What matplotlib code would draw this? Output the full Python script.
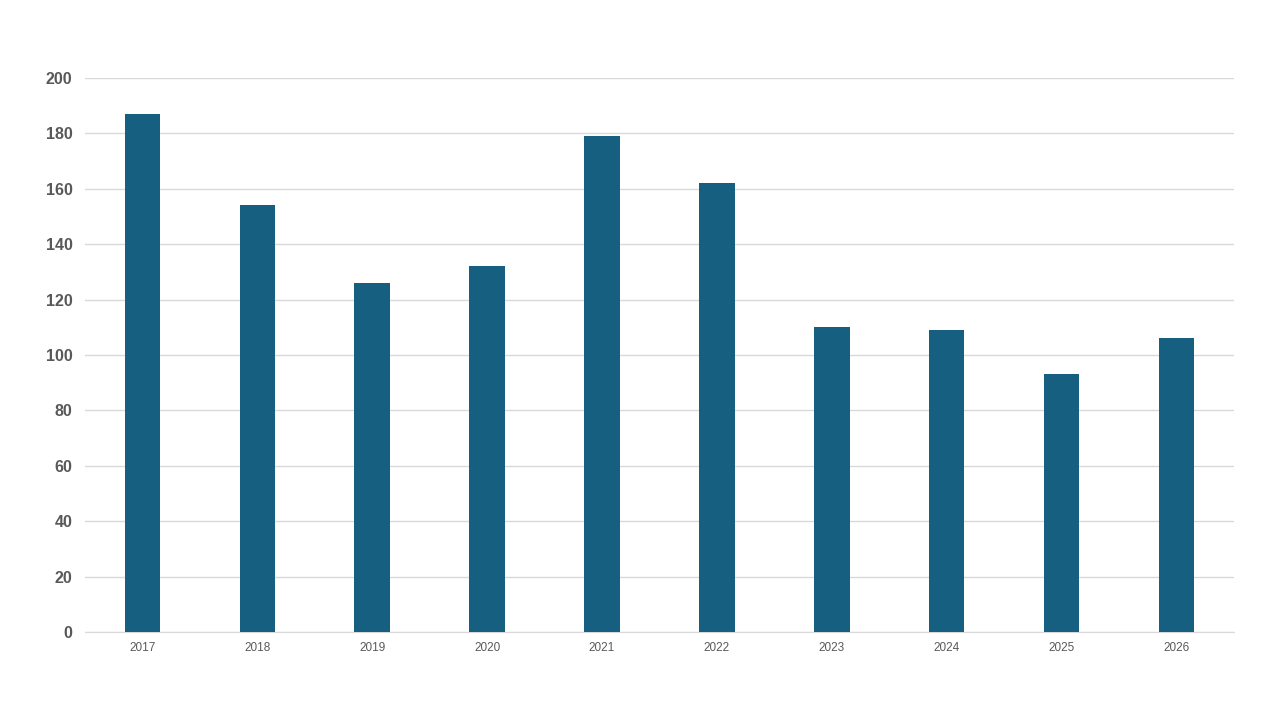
import matplotlib
matplotlib.use('Agg')
import matplotlib.pyplot as plt

plt.rcParams['font.family'] = ['Liberation Sans', 'DejaVu Sans']

years = ['2017', '2018', '2019', '2020', '2021', '2022', '2023', '2024', '2025', '2026']
values = [187, 154, 126, 132, 179, 162, 110, 109, 93, 106]

BAR_COLOR = '#175F80'
GRID_COLOR = '#D9D9D9'
TEXT_COLOR = '#595959'

fig = plt.figure(figsize=(12.8, 7.2), dpi=100)
ax = fig.add_axes([0.0664, 0.1222, 0.8976, 0.7695])

ax.bar(range(len(years)), values, width=0.31, color=BAR_COLOR, zorder=3)

ax.set_xlim(-0.5, len(years) - 0.5)
ax.set_ylim(0, 200)
ax.set_yticks(range(0, 201, 20))
ax.set_xticks(range(len(years)))
ax.set_xticklabels(years)

ax.grid(axis='y', color=GRID_COLOR, linewidth=1, zorder=0)
for side in ['top', 'right', 'left']:
    ax.spines[side].set_visible(False)
ax.spines['bottom'].set_color(GRID_COLOR)

ax.tick_params(axis='y', length=0, pad=9, labelsize=11.5, labelcolor=TEXT_COLOR)
ax.tick_params(axis='x', length=0, pad=7.5, labelsize=8.5, labelcolor=TEXT_COLOR)
for lbl in ax.get_yticklabels():
    lbl.set_fontweight('bold')

fig.savefig('out.png', dpi=100)
